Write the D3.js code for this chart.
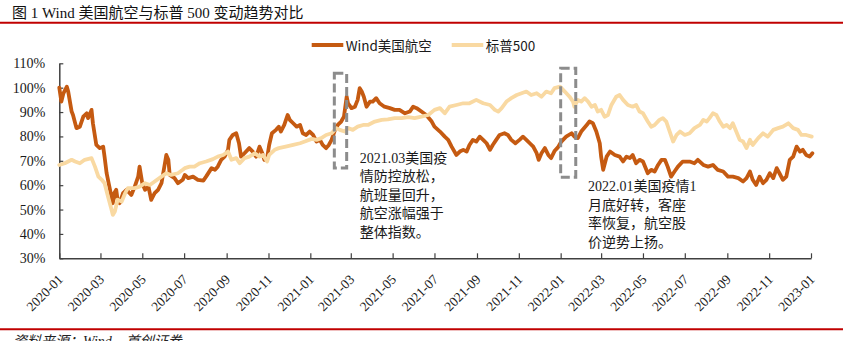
<!DOCTYPE html>
<html><head><meta charset="utf-8">
<script src="https://cdn.jsdelivr.net/npm/d3@7"></script>
<style>
html,body{margin:0;padding:0;background:#fff;}
svg{display:block;}
</style></head><body>
<svg id="chart" width="843" height="341"></svg>
<script>
// ---------------- DATA ----------------
const titleText = "图 1 Wind 美国航空与标普 500 变动趋势对比";
const sourceText = "资料来源：Wind，首创证券";
const seriesNames = ["Wind美国航空", "标普500"];
const yTicks = [30, 40, 50, 60, 70, 80, 90, 100, 110];

const windDates = ["2020-01-01","2020-01-04","2020-01-07","2020-01-12","2020-01-14","2020-01-19","2020-01-21","2020-01-26","2020-01-31","2020-02-05","2020-02-10","2020-02-12","2020-02-17","2020-02-19","2020-02-24","2020-02-29","2020-03-05","2020-03-07","2020-03-10","2020-03-14","2020-03-19","2020-03-21","2020-03-24","2020-03-26","2020-03-29","2020-04-03","2020-04-08","2020-04-15","2020-04-20","2020-04-25","2020-04-27","2020-05-01","2020-05-05","2020-05-10","2020-05-14","2020-05-19","2020-05-24","2020-05-29","2020-06-03","2020-06-05","2020-06-08","2020-06-10","2020-06-17","2020-06-22","2020-06-29","2020-07-02","2020-07-07","2020-07-14","2020-07-21","2020-07-29","2020-08-02","2020-08-10","2020-08-15","2020-08-19","2020-08-24","2020-08-29","2020-09-03","2020-09-05","2020-09-10","2020-09-15","2020-09-19","2020-09-22","2020-09-27","2020-10-04","2020-10-09","2020-10-14","2020-10-19","2020-10-23","2020-10-26","2020-10-30","2020-11-02","2020-11-06","2020-11-12","2020-11-16","2020-11-19","2020-11-24","2020-11-29","2020-12-02","2020-12-07","2020-12-12","2020-12-17","2020-12-21","2020-12-26","2020-12-31","2021-01-05","2021-01-10","2021-01-15","2021-01-19","2021-01-24","2021-01-28","2021-02-01","2021-02-06","2021-02-10","2021-02-15","2021-02-19","2021-02-23","2021-02-25","2021-03-02","2021-03-07","2021-03-11","2021-03-14","2021-03-17","2021-03-20","2021-03-24","2021-03-29","2021-04-02","2021-04-07","2021-04-12","2021-04-19","2021-04-27","2021-05-04","2021-05-11","2021-05-19","2021-05-26","2021-05-31","2021-06-05","2021-06-12","2021-06-19","2021-06-27","2021-07-01","2021-07-09","2021-07-16","2021-07-21","2021-07-26","2021-08-02","2021-08-07","2021-08-12","2021-08-17","2021-08-21","2021-08-26","2021-08-31","2021-09-05","2021-09-10","2021-09-15","2021-09-20","2021-09-24","2021-09-29","2021-10-04","2021-10-11","2021-10-16","2021-10-21","2021-10-27","2021-11-02","2021-11-07","2021-11-12","2021-11-17","2021-11-22","2021-11-27","2021-11-30","2021-12-04","2021-12-09","2021-12-14","2021-12-18","2021-12-23","2021-12-28","2022-01-02","2022-01-09","2022-01-17","2022-01-21","2022-01-26","2022-01-31","2022-02-08","2022-02-12","2022-02-17","2022-02-22","2022-02-27","2022-03-01","2022-03-04","2022-03-09","2022-03-14","2022-03-21","2022-03-28","2022-04-02","2022-04-07","2022-04-12","2022-04-16","2022-04-21","2022-04-26","2022-05-01","2022-05-08","2022-05-13","2022-05-18","2022-05-23","2022-05-28","2022-06-02","2022-06-06","2022-06-11","2022-06-16","2022-06-21","2022-06-28","2022-07-08","2022-07-15","2022-07-20","2022-07-28","2022-08-04","2022-08-11","2022-08-18","2022-08-26","2022-09-02","2022-09-09","2022-09-17","2022-09-24","2022-09-29","2022-10-04","2022-10-08","2022-10-13","2022-10-18","2022-10-23","2022-10-28","2022-11-02","2022-11-07","2022-11-12","2022-11-16","2022-11-21","2022-11-26","2022-12-01","2022-12-06","2022-12-11","2022-12-16","2022-12-20","2022-12-25","2022-12-30","2023-01-03"];
const windValues = [100,94.3,97.7,100.4,98.4,90.2,88.8,83.4,84,88.1,89.5,87.5,90.9,85.4,76.5,75.2,75.8,71.7,64.9,59.4,52.6,56.7,58.1,54,52.6,56.7,58.1,56,59.4,63.5,67.6,60.8,58.1,59.4,54,56.7,58.1,60.8,69,72.4,70.4,64.2,62.9,60.8,62.2,64.2,62.9,63.5,62.2,61.9,63.5,67,66.3,67.6,70.4,71.7,74.5,78.6,80.6,81.3,77.2,71.7,73.1,75.2,73.8,71.7,75.8,73.1,70.4,71.1,76.5,81.3,82.7,84,82,84.7,88.8,86.8,85.4,84,84.7,81.3,80.6,82,80.6,77.9,78.6,76.5,75.2,76.5,78.6,82.7,84.7,86.1,88.1,96.3,93.6,91.6,92.2,95,99.8,98.4,96.3,92.2,94.3,94.3,95.7,93.6,92.2,91.6,90.9,90.9,89.5,90.2,92.2,91.6,90.2,88.8,86.1,84,82,79.9,78.6,75.8,72.4,73.8,74.5,73.8,76.5,78.6,77.9,79.9,78.6,77.2,74.5,76.5,78.6,80.6,81.3,80.6,78.6,77.2,78.6,79.9,78.6,77.2,75.8,73.1,70.4,73.1,75.2,72.4,71.1,74,75.5,77.9,79.9,81.3,79.9,79.3,82,84.7,86.1,85.4,82,77.2,71.7,66.3,71.7,73.8,72.4,71.7,69.7,71.7,71.1,72.4,69,70.4,69.7,64.9,66.3,65.6,68.3,70.4,70.4,67.6,63.5,65.6,67.6,69.7,69.7,69,70.4,68.3,67.6,68.3,66.3,65.6,63.5,63.5,62.9,61.5,62.9,65.6,62.2,60.1,63.5,60.8,62.2,64.9,62.9,67,64.9,62.2,63.5,70.4,71.7,75.8,73.8,74.5,72.4,71.7,73.1];

const spxDates = ["2020-01-01","2020-01-09","2020-01-19","2020-01-24","2020-01-31","2020-02-07","2020-02-17","2020-02-22","2020-02-27","2020-03-03","2020-03-07","2020-03-12","2020-03-16","2020-03-19","2020-03-22","2020-03-26","2020-04-01","2020-04-06","2020-04-10","2020-04-20","2020-04-27","2020-05-05","2020-05-12","2020-05-19","2020-05-29","2020-06-05","2020-06-12","2020-06-22","2020-06-29","2020-07-02","2020-07-09","2020-07-16","2020-07-24","2020-08-02","2020-08-12","2020-08-19","2020-08-27","2020-09-03","2020-09-08","2020-09-15","2020-09-20","2020-09-27","2020-10-04","2020-10-12","2020-10-19","2020-10-24","2020-10-30","2020-11-02","2020-11-10","2020-11-16","2020-11-26","2020-12-07","2020-12-17","2020-12-24","2021-01-03","2021-01-10","2021-01-17","2021-01-24","2021-02-01","2021-02-08","2021-02-13","2021-02-20","2021-02-25","2021-03-04","2021-03-11","2021-03-19","2021-03-26","2021-04-05","2021-04-15","2021-04-24","2021-05-04","2021-05-14","2021-05-24","2021-06-02","2021-06-12","2021-06-22","2021-07-01","2021-07-09","2021-07-16","2021-07-23","2021-08-02","2021-08-12","2021-08-21","2021-08-31","2021-09-10","2021-09-20","2021-09-27","2021-10-02","2021-10-07","2021-10-14","2021-10-21","2021-10-29","2021-11-05","2021-11-12","2021-11-19","2021-11-27","2021-12-04","2021-12-11","2021-12-18","2021-12-23","2021-12-31","2022-01-07","2022-01-14","2022-01-19","2022-01-21","2022-01-26","2022-01-31","2022-02-05","2022-02-10","2022-02-15","2022-02-20","2022-02-24","2022-03-01","2022-03-06","2022-03-11","2022-03-16","2022-03-23","2022-03-28","2022-04-02","2022-04-09","2022-04-16","2022-04-21","2022-04-26","2022-05-01","2022-05-08","2022-05-13","2022-05-18","2022-05-25","2022-05-30","2022-06-04","2022-06-09","2022-06-14","2022-06-19","2022-06-24","2022-07-01","2022-07-08","2022-07-15","2022-07-23","2022-07-28","2022-08-02","2022-08-06","2022-08-11","2022-08-16","2022-08-21","2022-08-26","2022-08-31","2022-09-05","2022-09-09","2022-09-14","2022-09-19","2022-09-24","2022-09-29","2022-10-04","2022-10-08","2022-10-16","2022-10-23","2022-10-30","2022-11-07","2022-11-14","2022-11-21","2022-11-29","2022-12-06","2022-12-13","2022-12-18","2022-12-25","2023-01-02"];
const spxValues = [68.3,69,70.4,69.7,69,70.4,71.1,67.6,63.5,62.2,60.8,55.3,51.2,47.8,49.2,54,53.3,56.7,58.8,58.8,59.4,60.8,60.1,61.5,63.5,64.9,64.2,64.9,66.3,67,67.6,67.6,69,69.7,70.7,71.7,72.4,73.8,70.4,71.1,69,71.1,71.7,73.1,71.7,72.4,69.7,72.4,74.5,75.2,75.8,76.5,77.2,77.9,79,78.6,79.3,80.6,81.3,83.4,82.7,82,83.4,82.7,84,84.7,84.7,86.1,86.8,87,87.5,87.5,87.9,87.5,88.1,88.8,90.9,91.6,89.5,92.2,92.9,93.6,93.6,95,93.6,92.9,90.9,90.2,91.6,94.3,95.7,97,97.7,98.4,97,97.7,96.3,98.4,97.7,99.8,100.4,98.4,96.3,94.3,92.2,95,94.3,95.7,94.3,92.2,92.9,90.2,90.9,88.1,88.8,92.9,96.3,97,95,92.9,92.2,92.9,90.2,89.5,86.1,84,84.7,86.8,87.5,86.1,82,77.9,80.6,82,80.6,81.3,83.4,84.7,86.8,86.1,87.5,89.5,88.8,86.1,84,84.7,83.4,85.4,82,78.6,77.9,75.2,78.6,76.5,79.3,81.3,79.9,82.7,83.4,84,85.4,83.4,82.7,80.6,80.6,79.9];

// annotation boxes: [startDate, endDate, topValue, bottomValue]
const boxStarts = ["2021-02-05", "2022-01-01"];
const boxEnds = ["2021-02-23", "2022-01-23"];
const boxTops = [105.9, 108];
const boxBottoms = [67, 63.3];
// annotation notes: anchor date / value and text lines
const noteDates = ["2021-03-14", "2022-02-10"];
const noteValues = [71.1, 59.4];
const noteLines = [
  ["2021.03美国疫", "情防控放松，", "航班量回升，", "航空涨幅强于", "整体指数。"],
  ["2022.01美国疫情1", "月底好转，客座", "率恢复，航空股", "价逆势上扬。"]
];

// ---------------- CHART ----------------
const parse = d3.timeParse("%Y-%m-%d");
const svg = d3.select("#chart");
const colors = ["#C55A11", "#F9D9A2"];
const serifCJK = "'Liberation Serif','Times New Roman','Noto Sans CJK SC',serif";
const sansCJK = "'Noto Sans CJK SC','DejaVu Sans',sans-serif";

const plotL = 59.3, plotR = 811, plotT = 63.3, plotB = 258.3;
const x = d3.scaleTime().domain([parse("2020-01-01"), parse("2023-01-01")]).range([plotL, plotR]);
const y = d3.scaleLinear().domain([30, 110]).range([plotB, plotT]);

// title and rules
svg.append("text").attr("x", 12).attr("y", 13).attr("dominant-baseline", "central")
  .attr("font-family", serifCJK).attr("font-size", 15).attr("fill", "#111").text(titleText);
svg.append("line").attr("x1", 0).attr("x2", 843).attr("y1", 22.7).attr("y2", 22.7)
  .attr("stroke", "#C00000").attr("stroke-width", 2);
svg.append("line").attr("x1", 0).attr("x2", 843).attr("y1", 329.3).attr("y2", 329.3)
  .attr("stroke", "#C00000").attr("stroke-width", 2);
svg.append("text").attr("x", 13).attr("y", 346).attr("font-style", "italic")
  .attr("font-family", serifCJK).attr("font-size", 14).attr("fill", "#222").text(sourceText);

// axes
const axisColor = "#404040";
const yAxis = d3.axisLeft(y).tickValues(yTicks).tickFormat(d => d + "%").tickSizeInner(-4).tickSizeOuter(0).tickPadding(14);
const gy = svg.append("g").attr("transform", `translate(${plotL},0)`).call(yAxis);
gy.select(".domain").attr("stroke", axisColor).attr("stroke-width", 1.5);
gy.selectAll(".tick line").attr("stroke", axisColor).attr("stroke-width", 1.2);
gy.selectAll("text").attr("font-family", serifCJK).attr("font-size", 14).attr("fill", "#1a1a1a");

const xAxis = d3.axisBottom(x).ticks(d3.timeMonth.every(2)).tickFormat(d3.timeFormat("%Y-%m")).tickSizeInner(-5).tickSizeOuter(0);
const gx = svg.append("g").attr("transform", `translate(0,${plotB})`).call(xAxis);
gx.select(".domain").attr("stroke", axisColor).attr("stroke-width", 1.5);
gx.selectAll(".tick line").attr("stroke", axisColor).attr("stroke-width", 1.2);
gx.selectAll("text").attr("font-family", serifCJK).attr("font-size", 13.5).attr("fill", "#1a1a1a")
  .attr("text-anchor", "end").attr("x", 0).attr("y", 0).attr("dy", 0)
  .attr("transform", "translate(4,22) rotate(-45)");

// series
const line = d3.line().x(d => x(d[0])).y(d => y(d[1]));
const windData = d3.zip(windDates.map(parse), windValues);
const spxData = d3.zip(spxDates.map(parse), spxValues);
[windData, spxData].forEach((data, i) => {
  svg.append("path").datum(data).attr("d", line).attr("fill", "none")
    .attr("stroke", colors[i]).attr("stroke-width", 3.8)
    .attr("stroke-linejoin", "round").attr("stroke-linecap", "round");
});

// annotation boxes
boxStarts.forEach((s, i) => {
  const x0 = x(parse(s)), x1 = x(parse(boxEnds[i]));
  const y0 = y(boxTops[i]), y1 = y(boxBottoms[i]);
  svg.append("rect").attr("x", x0).attr("y", y0).attr("width", x1 - x0).attr("height", y1 - y0)
    .attr("fill", "none").attr("stroke", "#8C8C8C").attr("stroke-width", 3)
    .attr("stroke-dasharray", "9,4");
});

// notes
noteDates.forEach((d, i) => {
  const t = svg.append("text").attr("font-family", serifCJK).attr("font-size", 14).attr("fill", "#1a1a1a");
  noteLines[i].forEach((ln, j) => {
    t.append("tspan").attr("x", x(parse(d))).attr("y", y(noteValues[i]) + j * 18.6)
      .attr("dominant-baseline", "central").text(ln);
  });
});

// legend
const legX = [311.7, 451.7];
seriesNames.forEach((name, i) => {
  svg.append("line").attr("x1", legX[i]).attr("x2", legX[i] + 31.6).attr("y1", 45).attr("y2", 45)
    .attr("stroke", colors[i]).attr("stroke-width", 3.8);
  svg.append("text").attr("x", legX[i] + 34).attr("y", 45).attr("dominant-baseline", "central")
    .attr("font-family", sansCJK).attr("font-size", 13.5).attr("fill", "#1a1a1a").text(name);
});
</script>
</body></html>
